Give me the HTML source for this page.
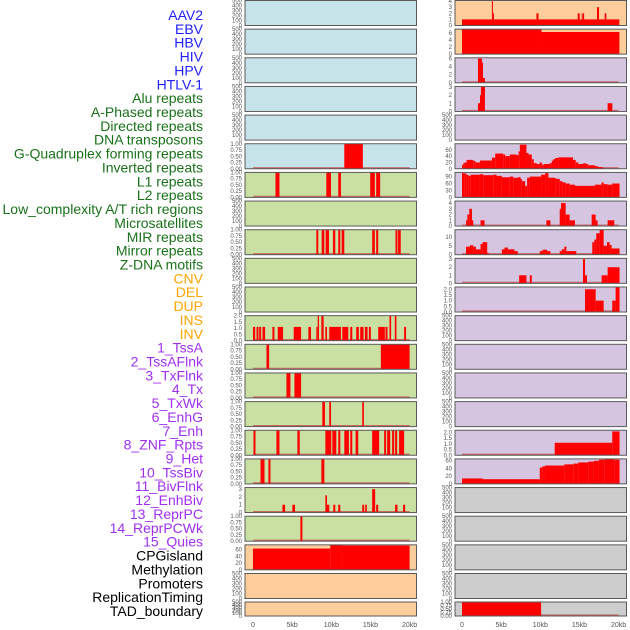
<!DOCTYPE html>
<html><head><meta charset="utf-8"><style>
html,body{margin:0;padding:0;background:#fff;}
svg{display:block;font-family:"Liberation Sans",sans-serif;}
</style></head><body>
<svg id="chart" width="630" height="630" viewBox="0 0 630 630" xmlns="http://www.w3.org/2000/svg"></svg>
<script>
// ---- track labels ----
const trackLabels = ["AAV2","EBV","HBV","HIV","HPV","HTLV-1","Alu repeats","A-Phased repeats","Directed repeats","DNA transposons","G-Quadruplex forming repeats","Inverted repeats","L1 repeats","L2 repeats","Low_complexity A/T rich regions","Microsatellites","MIR repeats","Mirror repeats","Z-DNA motifs","CNV","DEL","DUP","INS","INV","1_TssA","2_TssAFlnk","3_TxFlnk","4_Tx","5_TxWk","6_EnhG","7_Enh","8_ZNF_Rpts","9_Het","10_TssBiv","11_BivFlnk","12_EnhBiv","13_ReprPC","14_ReprPCWk","15_Quies","CPGisland","Methylation","Promoters","ReplicationTiming","TAD_boundary"];
const labelGroups = [6,13,5,15,5];
const groupColors = ["#2020ff","#1a711a","#ffa500","#a030f0","#000000"];
// ---- x axis ----
const xTicks = [0,5,10,15,20];
const xTickLabels = ["0","5kb","10kb","15kb","20kb"];
// ---- tick sets ----
const ticksEmpty = [0,100,200,300,400,500];
const ticksUnit = [0,0.25,0.5,0.75,1];
const ticksTwo = [0,0.5,1,1.5,2];
// ---- left column bars [startKb, endKb, value] ----
const barsL5 = [[11.66,14.03,1]];
const barsL6 = [[2.87,3.38,1],[9.36,9.96,1],[10.89,11.23,1],[14.97,15.56,1],[15.73,16.24,1]];
const barsL8 = [[8.09,8.34,1],[8.77,9.11,1],[9.28,9.7,1],[10.21,10.51,1],[10.89,11.15,1],[11.32,11.66,1],[15.22,15.56,1],[15.73,15.99,1],[18.2,18.45,1],[18.53,18.87,1]];
const barsL11 = [[0,0.28,1.1],[0.45,0.7,1.1],[0.79,1.04,1.1],[1.21,1.55,1.1],[2.48,2.74,1.1],[3.16,3.84,1.1],[5.2,6.14,1.1],[7.07,7.41,1.1],[8.09,8.26,1.1],[8.26,8.43,2],[8.73,9.02,2],[9.24,9.45,1.1],[9.74,11.23,1.1],[11.4,12.17,1.1],[12.42,12.68,1.1],[13.18,13.52,1.1],[13.69,14.12,1.1],[14.29,14.63,1.1],[14.8,15.05,1.1],[15.99,16.84,1.1],[16.92,17.18,1.1],[17.43,17.64,2],[18.11,18.32,2],[19.3,19.55,1.1]];
const barsL12 = [[1.72,2.06,1],[16.33,20.0,1]];
const barsL13 = [[4.27,4.78,1],[5.29,6.14,1]];
const barsL14 = [[8.85,9.19,1],[9.74,9.96,1],[13.95,14.16,1]];
const barsL15 = [[0.06,0.32,1],[2.99,3.38,1],[5.67,5.97,1],[9.24,10.0,1],[10.13,10.64,1],[10.89,11.15,1],[11.66,12.25,1],[12.42,12.68,1],[13.1,13.44,1],[15.22,16.11,1],[16.75,17.0,1],[17.13,17.52,1],[17.77,18.03,1],[18.15,18.41,1],[18.66,19.3,1]];
const barsL16 = [[0.96,1.47,1],[1.97,2.23,1],[8.73,9.11,1]];
const barsL17 = [[3.76,4.1,1],[5.03,5.37,1],[9.24,9.45,2.2],[9.45,9.74,1],[10.25,10.51,1],[10.89,11.15,1],[13.95,14.2,1],[14.33,14.54,1],[15.22,15.6,3],[15.73,15.99,1],[18.15,18.45,1],[19.17,19.43,1]];
const barsL18 = [[6.05,6.31,1]];
const barsL19 = [[0,9.87,63],[9.87,11.36,74],[11.36,20.0,72]];
// ---- right column bars ----
const barsR0 = [[0,20.1,1],[3.82,3.95,4],[3.95,4.08,2],[9.51,9.77,2],[14.78,15.03,2],[15.29,15.4,2],[15.45,15.6,2],[17.24,17.5,3],[18.22,18.43,2]];
const barsR1 = [[0,10.15,7.1],[10.15,20.1,6.3]];
const barsR2 = [[2.04,2.55,6],[2.55,2.68,5],[2.68,2.93,1.2]];
const barsR3 = [[2.04,2.3,1],[2.3,2.42,2],[2.42,2.93,3],[18.6,19.2,1]];
const stepR5Edges = [0,0.17,0.34,0.59,1.44,1.7,2.29,3.82,4.24,5.26,5.52,6.11,6.96,7.22,7.39,8.23,8.49,8.91,9.17,9.51,9.93,10.19,10.44,11.21,11.46,11.63,11.89,12.31,14.18,14.52,14.86,15.45,15.88,16.13,16.98,17.41,18.0];
const stepR5Values = [12,18,20,28,25,20,26,35,48,45,40,45,43,55,76,50,45,30,18,15,20,13,15,18,25,30,34,36,28,20,15,17,15,11,8,5];
const stepR6Edges = [0,0.34,0.59,0.85,1.1,2.29,2.71,3.99,4.41,5.09,6.11,6.54,7.22,7.47,7.64,8.06,8.32,8.66,10.1,10.61,11.04,11.89,12.06,12.48,12.82,13.24,13.75,14.43,16.98,17.83,18.09,18.6,19.19,20.12];
const stepR6Values = [105,103,97,93,98,100,96,98,93,87,90,85,88,80,70,50,85,90,98,105,85,82,80,70,65,60,55,50,55,65,57,55,60,57,62].slice(0,33);
const barsR7 = [[0.51,0.68,1],[0.68,0.93,2],[0.93,1.27,3],[1.27,1.44,1],[2.37,2.88,1],[10.78,11.29,1],[12.48,12.65,3],[12.65,13.24,4],[13.24,13.75,2],[13.75,14.43,1],[16.56,17.07,2],[17.07,17.32,1],[18.6,19.45,1]];
const barsR8 = [[0.51,1.02,4.5],[1.02,1.44,5.3],[1.44,1.78,4.5],[1.78,2.37,3],[2.37,2.63,6],[2.63,3.22,7],[3.22,3.4,1],[5.09,5.43,3],[5.43,5.86,4],[5.86,6.71,3],[6.71,7.13,2],[9.93,10.27,2],[10.27,10.87,2.8],[10.87,11.29,2],[12.48,12.74,2],[12.74,13.07,3],[13.07,13.33,4.5],[13.33,14.6,2],[16.64,16.9,7],[16.9,17.15,8.5],[17.15,17.58,12],[17.58,18.09,14],[18.09,18.51,5],[18.51,18.85,7],[18.85,19.1,5.5],[19.1,20.12,3.5]];
const barsR9 = [[7.3,8.23,1],[8.66,8.91,1],[15.45,15.71,3],[15.71,15.96,1],[17.83,18.6,1],[18.6,20.12,2]];
const barsR10 = [[15.71,17.07,2],[17.07,18.09,1],[19.19,19.62,1],[19.62,20.12,2.2]];
const barsR15 = [[11.84,19.19,1.1],[19.19,20.12,2.1]];
const barsR16 = [[0,2.63,14],[2.63,9.93,12],[9.93,10.27,42],[10.27,10.61,45],[10.61,13.07,47],[13.07,14.26,50],[14.26,14.86,52],[14.86,16.13,55],[16.13,16.81,57],[16.81,17.49,59],[17.49,18.17,62],[18.17,19.45,64],[19.45,20.12,62]];
const barsR21 = [[0,10.1,1]];

function steps(edges, vals){ const out=[]; for(let i=0;i<vals.length && i+1<edges.length;i++) out.push([edges[i],edges[i+1],vals[i]]); return out; }

const BG = {b:"#c7e3ea", g:"#c9e0a2", o:"#fecd9c", p:"#d5c5e1", s:"#cdcdcd"};
const leftBg = "bbbbbbgggggggggggggooo";
const rightBg = "oopppppppppppppppsssss";
// panels: [col,row,ymax,ticks,decimals,bars,baseline]
const panels = [
 [0,0,500,ticksEmpty,0,[],false],[0,1,500,ticksEmpty,0,[],false],[0,2,500,ticksEmpty,0,[],false],[0,3,500,ticksEmpty,0,[],false],[0,4,500,ticksEmpty,0,[],false],
 [0,5,1,ticksUnit,2,barsL5,true],[0,6,1,ticksUnit,2,barsL6,true],[0,7,500,ticksEmpty,0,[],false],[0,8,1,ticksUnit,2,barsL8,true],
 [0,9,500,ticksEmpty,0,[],false],[0,10,500,ticksEmpty,0,[],false],[0,11,2,ticksTwo,1,barsL11,true],[0,12,1,ticksUnit,2,barsL12,true],
 [0,13,1,ticksUnit,2,barsL13,true],[0,14,1,ticksUnit,2,barsL14,true],[0,15,1,ticksUnit,2,barsL15,true],[0,16,1,ticksUnit,2,barsL16,true],
 [0,17,3.2,[0,1,2,3],0,barsL17,true],[0,18,1,ticksUnit,2,barsL18,true],[0,19,74,[0,20,40,60],0,barsL19,true],
 [0,20,500,ticksEmpty,0,[],false],[0,21,500,ticksEmpty,0,[],false],
 [1,0,4.1,[0,1,2,3,4],0,barsR0,true],[1,1,7.1,[0,2,4,6],0,barsR1,true],[1,2,6.2,[0,2,4,6],0,barsR2,true],[1,3,3.05,[0,1,2,3],0,barsR3,true],
 [1,4,500,ticksEmpty,0,[],false],[1,5,79,[0,20,40,60],0,steps(stepR5Edges,stepR5Values),true],[1,6,108,[0,30,60,90],0,steps(stepR6Edges,stepR6Values),true],
 [1,7,4.35,[0,1,2,3,4],0,barsR7,true],[1,8,14,[0,5,10],0,barsR8,true],[1,9,3.1,[0,1,2,3],0,barsR9,true],[1,10,2.2,ticksTwo,1,barsR10,true],
 [1,11,500,ticksEmpty,0,[],false],[1,12,500,ticksEmpty,0,[],false],[1,13,500,ticksEmpty,0,[],false],[1,14,500,ticksEmpty,0,[],false],
 [1,15,2.2,ticksTwo,1,barsR15,true],[1,16,64,[0,20,40,60],0,barsR16,true],
 [1,17,500,ticksEmpty,0,[],false],[1,18,500,ticksEmpty,0,[],false],[1,19,500,ticksEmpty,0,[],false],[1,20,500,ticksEmpty,0,[],false],[1,21,1,ticksUnit,2,barsR21,true]
];

const svg = document.getElementById('chart');
const NS = "http://www.w3.org/2000/svg";
function mk(tag, attrs){ const e=document.createElementNS(NS,tag); for(const k in attrs) e.setAttribute(k,attrs[k]); svg.appendChild(e); return e; }

// labels
let li=0;
labelGroups.forEach((n,g)=>{ for(let k=0;k<n;k++){ const t=mk('text',{x:203,y:20+li*13.86,'text-anchor':'end','font-size':14,fill:groupColors[g]}); t.textContent=trackLabels[li];
 
 
 li++; }});

const colX = [245,455], panelW = 171.5;
const x0 = [253,462], kbPx = 7.83;
function xScale(col,kb){ return x0[col]+kb*kbPx; }
function rowTop(r){ return r===21?602:r*28.65+0.5; }
function rowH(r){ return r===21?14:25; }

panels.forEach(p=>{
 const [col,row,ymax,ticks,dec,bars,base]=p;
 const top=rowTop(row), h=rowH(row), left=colX[col];
 const bg=(col===0?leftBg:rightBg)[row];
 const yS=v=>top+h-(v/ymax)*h;
 const r=mk('rect',{x:left,y:top,width:panelW,height:h,fill:BG[bg]});
 
 
 if(base){ const l=mk('line',{x1:xScale(col,0),x2:xScale(col,20),y1:top+h-0.8,y2:top+h-0.8,stroke:'#c04848','stroke-width':1.6,'stroke-opacity':0.75});   }
 bars.forEach(b=>{
  const xa=xScale(col,Math.max(b[0],0)), xb=xScale(col,b[1]);
  const yb=yS(Math.min(b[2],ymax));
  const rr=mk('rect',{x:xa,y:yb,width:Math.max(xb-xa,1),height:top+h-yb,fill:'#ff0000'});
  
  
 });
 mk('rect',{x:left,y:top,width:panelW,height:h,fill:'none',stroke:'#5a5a5a','stroke-width':1});
 ticks.forEach(tv=>{
  const t=mk('text',{x:left-3,y:yS(tv)+2,'text-anchor':'end','font-size':6,fill:'#555'});
  t.textContent = dec?tv.toFixed(dec):String(tv);
  
  
 });
});

[0,1].forEach(col=>{ xTicks.forEach((v,i)=>{ const t=mk('text',{x:xScale(col,v),y:627,'text-anchor':'middle','font-size':7,fill:'#555'}); t.textContent=xTickLabels[i];
 
  }); });
</script>
</body></html>
